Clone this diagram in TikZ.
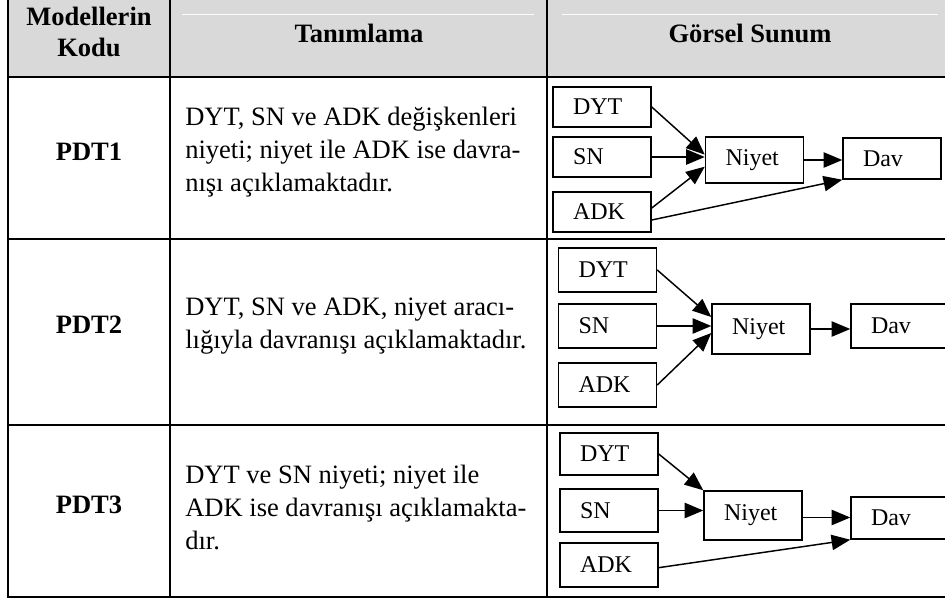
\documentclass[tikz,border=0pt]{standalone}
\usepackage{fontspec}
\setmainfont{Liberation Serif}
\usepackage{tikz}
\usetikzlibrary{arrows.meta,positioning}
\definecolor{HeadGray}{RGB}{217,217,217}

\tikzset{
	kutu/.style={draw, line width=1.1pt, rectangle, minimum width=73.5pt, text width=43.5pt,
		inner xsep=15pt, inner ysep=0pt, align=left, font=\fontsize{18}{21}\selectfont},
	ok/.style={line width=1.1pt, -{Triangle[length=14pt,width=11.5pt]}},
	cizgi/.style={line width=1.5pt},
	baslik/.style={font=\bfseries\fontsize{19.9}{23.25}\selectfont, align=center, inner sep=0pt},
	metin/.style={font=\fontsize{19.9}{24.75}\selectfont, align=left, anchor=west, inner sep=0pt},
	kod/.style={font=\bfseries\fontsize{19.9}{24}\selectfont, inner sep=0pt}
}

\begin{document}
\begin{tikzpicture}[x=0.75pt, y=-0.75pt]
		\useasboundingbox (0,0) rectangle (945,600);
		
		% başlık satırı
		\fill[HeadGray] (8,0) rectangle (945,77);
		\draw[gray!4, line width=0.6pt] (182,14) -- (534,14) (562,14) -- (938,14);
		\node[baslik] (hKod) at (89,32) {Modellerin\\Kodu};
		\node[baslik] (hTan) at (359,33) {Tanımlama};
		\node[baslik] (hGor) at (750,33) {Görsel Sunum};
		
		% tablo çizgileri
		\draw[cizgi] (8,0) -- (8,597) -- (945,597);
		\draw[cizgi] (170,0) -- (170,597);
		\draw[cizgi] (547,0) -- (547,597);
		\foreach \y in {77,239,425}
			\draw[cizgi] (8,\y) -- (945,\y);
		
		% model kodları ve açıklamalar
		\node[kod] (pdt1) at (89,152) {PDT1};
		\node[kod] (pdt2) at (89,325) {PDT2};
		\node[kod] (pdt3) at (89,505) {PDT3};
		\node[metin] (tan1) at (185,152) {DYT, SN ve ADK değişkenleri\\niyeti; niyet ile ADK ise davra-\\nışı açıklamaktadır.};
		\node[metin] (tan2) at (185,326.5) {DYT, SN ve ADK, niyet aracı-\\lığıyla davranışı açıklamaktadır.};
		\node[metin] (tan3) at (185,507.5) {DYT ve SN niyeti; niyet ile\\ADK ise davranışı açıklamakta-\\dır.};
		
		% PDT1
		\node[kutu, minimum height=30pt] (dyt1) at (602,107) {DYT};
		\node[kutu, minimum height=30pt] (sn1) at (602,157) {SN};
		\node[kutu, minimum height=30pt] (adk1) at (602,212) {ADK};
		\node[kutu, minimum height=34.5pt] (niyet1) at (754.5,160) {Niyet};
		\node[kutu, minimum height=30.75pt] (dav1) at (892,158.5) {Dav};
		\draw[ok] (dyt1.east) -- ([yshift=4pt]niyet1.west);
		\draw[ok] (sn1.east) -- (sn1.east -| niyet1.west);
		\draw[ok] ([yshift=3pt]adk1.east) -- ([yshift=-5pt]niyet1.west);
		\draw[ok] (niyet1.east) -- (niyet1.east -| dav1.west);
		\draw[ok] ([yshift=-6pt]adk1.east) -- (dav1.south west);
		
		% PDT2
		\node[kutu, minimum height=33pt] (dyt2) at (607.5,270) {DYT};
		\node[kutu, minimum height=33pt] (sn2) at (607.5,326) {SN};
		\node[kutu, minimum height=33pt] (adk2) at (607.5,385) {ADK};
		\node[kutu, minimum height=37.5pt] (niyet2) at (761,329) {Niyet};
		\node[kutu, minimum height=33pt] (dav2) at (900,326) {Dav};
		\draw[ok] (dyt2.east) -- ([yshift=9pt]niyet2.west);
		\draw[ok] (sn2.east) -- (sn2.east -| niyet2.west);
		\draw[ok] (adk2.east) -- ([yshift=-3pt]niyet2.west);
		\draw[ok] (niyet2.east) -- (niyet2.east -| dav2.west);
		
		% PDT3
		\node[kutu, minimum height=31.5pt] (dyt3) at (609,454) {DYT};
		\node[kutu, minimum height=32.25pt] (sn3) at (609,510.5) {SN};
		\node[kutu, minimum height=33pt] (adk3) at (609,565) {ADK};
		\node[kutu, minimum height=36.75pt] (niyet3) at (753,515.5) {Niyet};
		\node[kutu, minimum height=31.5pt] (dav3) at (900,518) {Dav};
		\draw[ok] (dyt3.east) -- (niyet3.north west);
		\draw[ok] (sn3.east) -- (sn3.east -| niyet3.west);
		\draw[ok] ([yshift=-1.5pt]niyet3.east) -- ([yshift=-1.5pt]niyet3.east -| dav3.west);
		\draw[ok] ([yshift=-2pt]adk3.east) -- (dav3.south west);
	\end{tikzpicture}
\end{document}
